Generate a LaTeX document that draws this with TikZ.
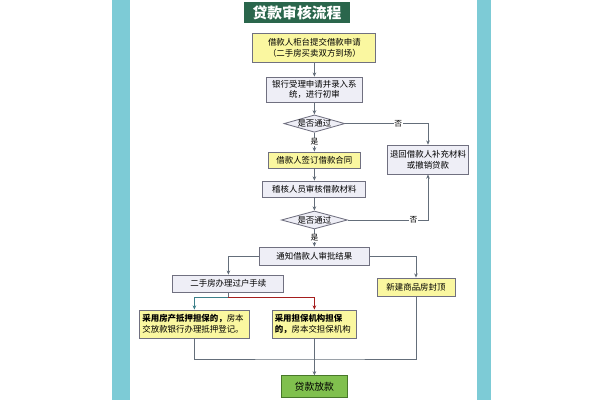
\documentclass[tikz,border=0pt]{standalone}
\usepackage{fontspec}
\setmainfont{Noto Sans CJK SC}
\usepackage{tikz}
\usetikzlibrary{arrows.meta, positioning, shapes.geometric}
\usepackage{xcolor}
\definecolor{barteal}{RGB}{125,203,214}
\definecolor{titlegreen}{RGB}{42,102,76}
\definecolor{boxgray}{RGB}{238,238,246}
\definecolor{boxline}{RGB}{112,112,128}
\definecolor{boxyellow}{RGB}{250,247,160}
\definecolor{loangreen}{RGB}{128,192,78}
\definecolor{loanline}{RGB}{72,120,42}
\definecolor{flowgray}{RGB}{100,110,122}
\definecolor{flowteal}{RGB}{60,128,138}
\definecolor{flowred}{RGB}{165,30,30}

\begin{document}
\begin{tikzpicture}[
  every node/.style={font=\fontsize{6}{7.5}\selectfont, inner sep=1pt},
  procbox/.style={draw=boxline, fill=boxgray, line width=0.6pt, align=center},
  yelbox/.style={procbox, fill=boxyellow},
  decision/.style={diamond, draw=boxline, fill=boxgray, line width=0.6pt,
    aspect=3.5, inner sep=0pt},
  flow/.style={draw=flowgray, line width=0.6pt},
  arr/.style={flow, -{Stealth[length=3pt,width=2.6pt]}},
  yesno/.style={fill=white, inner sep=0.6pt, font=\fontsize{5.5}{6}\selectfont},
]
\useasboundingbox (0,0) rectangle (15,10);

% side bars
\fill[barteal] (2.8,0) rectangle (3.25,10);
\fill[barteal] (11.925,0) rectangle (12.275,10);

% title
\node[fill=titlegreen, text=white, font=\fontsize{10.5}{12}\selectfont\bfseries,
  minimum width=2.65cm, minimum height=0.525cm] (title) at (7.425,9.69) {贷款审核流程};

% main column
\node[yelbox, minimum width=3.075cm, minimum height=0.725cm] (apply) at (7.86,8.81)
  {借款人柜台提交借款申请\\（二手房买卖双方到场）};
\node[procbox, minimum width=2.4cm, minimum height=0.625cm] (accept) at (7.86,7.76)
  {银行受理申请并录入系\\统，进行初审};
\node[decision, minimum width=1.475cm, minimum height=0.425cm] (check1) at (7.86,6.91) {是否通过};
\node[yelbox, minimum width=2.3cm, minimum height=0.4cm] (sign) at (7.86,6.0) {借款人签订借款合同};
\node[procbox, minimum width=2.575cm, minimum height=0.4cm] (audit) at (7.86,5.275) {稽核人员审核借款材料};
\node[decision, minimum width=1.65cm, minimum height=0.45cm] (check2) at (7.86,4.5) {是否通过};
\node[procbox, minimum width=2.75cm, minimum height=0.45cm] (notify) at (7.86,3.6) {通知借款人审批结果};

% right side
\node[procbox, minimum width=2.025cm, minimum height=0.725cm] (back) at (10.7,6.01)
  {退回借款人补充材料\\或撤销贷款};
\node[yelbox, minimum width=1.95cm, minimum height=0.45cm] (newhouse) at (10.4,2.825) {新建商品房封顶};

% second-hand branch
\node[procbox, minimum width=2.775cm, minimum height=0.425cm] (resale) at (5.71,2.91) {二手房办理过户手续};
\node[yelbox, align=left, text width=2.6cm, inner sep=2pt, minimum height=0.7cm] (mortgage) at (4.86,1.9)
  {{\bfseries 采用房产抵押担保的，}房本\\交放款银行办理抵押登记。};
\node[yelbox, align=left, text width=1.98cm, inner sep=2pt, minimum height=0.7cm] (guarantee) at (7.86,1.9)
  {{\bfseries 采用担保机构担保\\的，}房本交担保机构};

% result
\node[draw=loanline, fill=loangreen, line width=0.6pt, font=\fontsize{7}{8}\selectfont,
  minimum width=1.65cm, minimum height=0.55cm] (loan) at (7.86,0.33) {贷款放款};

\coordinate (split) at (5.71,2.575);
\coordinate (merge) at (7.86,1.025);

% connectors
\draw[arr] (apply) -- (accept);
\draw[arr] (accept) -- (check1);
\draw[arr] (check1) -- node[yesno]{是} (sign);
\draw[arr] (check1.east) -| node[yesno, pos=0.32]{否} (back.north);
\draw[arr] (sign) -- (audit);
\draw[arr] (audit) -- (check2);
\draw[arr] (check2) -- node[yesno]{是} (notify);
\draw[arr] (check2.east) -| node[yesno, pos=0.41]{否} (back.south);
\draw[arr] (notify.west) -| (resale.north);
\draw[arr] (notify.east) -| (newhouse.north);
\draw[flow] (resale.south) -- (split);
\draw[arr, draw=flowteal] (split) -| (mortgage.north);
\draw[arr, draw=flowred] (split) -| (guarantee.north);
\draw[flow] (mortgage.south) |- (merge) -| (newhouse.south);
\draw[arr] (guarantee) -- (loan);

\end{tikzpicture}
\end{document}
